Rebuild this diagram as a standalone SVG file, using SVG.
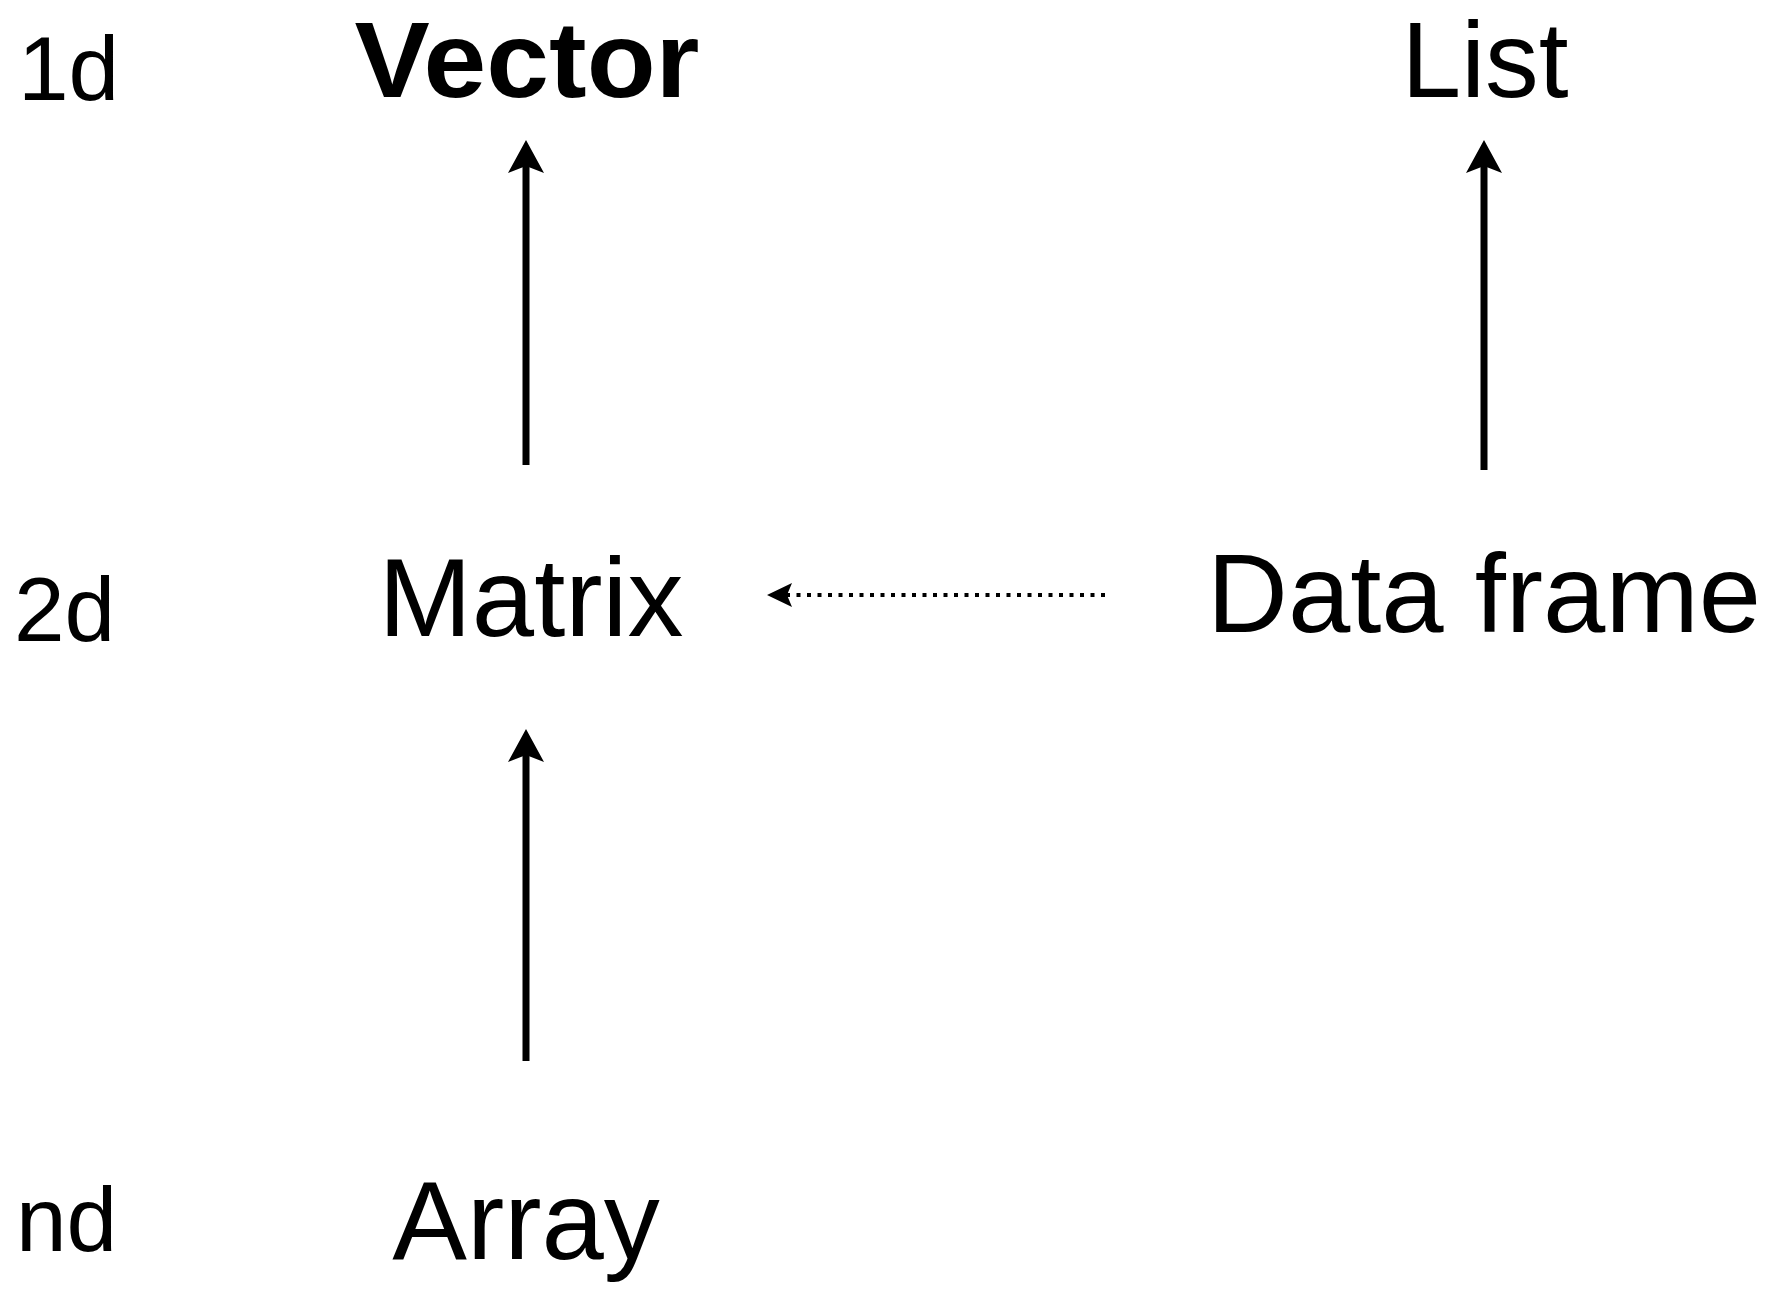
<svg xmlns="http://www.w3.org/2000/svg" width="1777" height="1293" viewBox="0 0 1777 1293">
<style>
  .main { font-family: "Liberation Sans", Arial, sans-serif; font-size: 112px; fill: #000; text-anchor: middle; }
  .top { font-size: 107px; }
  .bold { font-weight: bold; }
  .dim { font-family: "Liberation Sans", Arial, sans-serif; font-size: 91px; fill: #000; }
  .edge { stroke: #000; stroke-width: 7; fill: none; }
  .dotted { stroke: #000; stroke-width: 4; fill: none; stroke-dasharray: 4 6.5; }
</style>
<defs>
  <marker id="head" markerUnits="userSpaceOnUse" orient="auto" refX="0" refY="0" markerWidth="40" markerHeight="40" overflow="visible">
    <path d="M26,0 L-7,-18 L0,0 L-7,18 Z" fill="#000"/>
  </marker>
  <marker id="headSmall" markerUnits="userSpaceOnUse" orient="auto" refX="0" refY="0" markerWidth="30" markerHeight="30" overflow="visible">
    <path d="M20,0 L-5,-12 L0,0 L-5,12 Z" fill="#000"/>
  </marker>
</defs>
<rect width="1777" height="1293" fill="#fff"/>
<g id="dimension-labels">
  <text class="dim" x="18" y="100">1d</text>
  <text class="dim" x="14" y="641">2d</text>
  <text class="dim" x="16" y="1251">nd</text>
</g>
<g id="node-vector"><text class="main top bold" x="527" y="97" textLength="345" lengthAdjust="spacingAndGlyphs">Vector</text></g>
<g id="node-list"><text class="main top" x="1485" y="97" textLength="167" lengthAdjust="spacingAndGlyphs">List</text></g>
<g id="node-matrix"><text class="main" x="531" y="636">Matrix</text></g>
<g id="node-dataframe"><text class="main" x="1484" y="632">Data frame</text></g>
<g id="node-array"><text class="main" x="526" y="1259">Array</text></g>
<g id="connectors">
  <line class="edge" x1="526" y1="465" x2="526" y2="166" marker-end="url(#head)"/>
  <line class="edge" x1="1484" y1="470" x2="1484" y2="166" marker-end="url(#head)"/>
  <line class="edge" x1="526" y1="1061" x2="526" y2="755" marker-end="url(#head)"/>
  <line class="dotted" x1="1105" y1="595" x2="787" y2="595" marker-end="url(#headSmall)"/>
</g>
</svg>
